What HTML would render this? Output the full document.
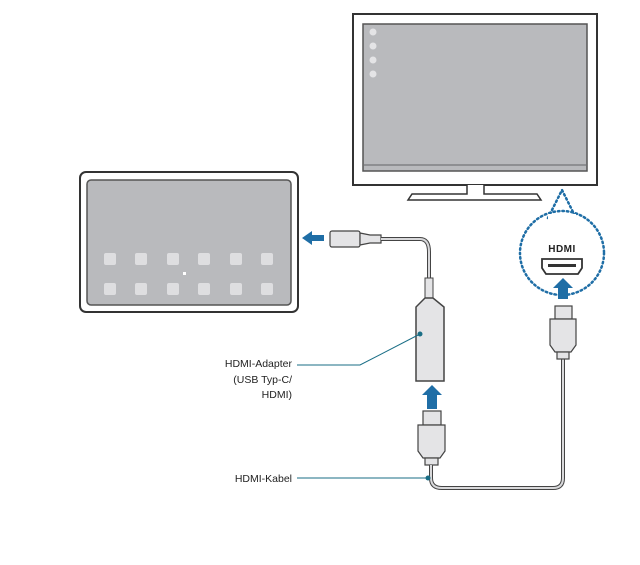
<!DOCTYPE html>
<html><head><style>body{margin:0;background:#fff}svg{display:block}</style></head><body>
<svg width="640" height="565" viewBox="0 0 640 565" xmlns="http://www.w3.org/2000/svg" font-family="Liberation Sans, sans-serif">
<!-- monitor -->
<rect x="353" y="14" width="244" height="171" fill="#fff" stroke="#333" stroke-width="2"/>
<rect x="363" y="24" width="224" height="147" fill="#b9babd" stroke="#555" stroke-width="1.5"/>
<line x1="364" y1="165" x2="586" y2="165" stroke="#8e8f92" stroke-width="2"/>
<g fill="#e4e4e6"><circle cx="373" cy="32" r="3.5"/><circle cx="373" cy="46" r="3.5"/><circle cx="373" cy="60" r="3.5"/><circle cx="373" cy="74" r="3.5"/></g>
<path d="M467 185 V194 H412 L408 200 H541 L537 194 H484 V185" fill="#fff" stroke="#333" stroke-width="1.5"/>
<!-- tablet -->
<rect x="80" y="172" width="218" height="140" rx="6" fill="#fff" stroke="#333" stroke-width="2"/>
<rect x="87" y="180" width="204" height="125" rx="4" fill="#b9babd" stroke="#555" stroke-width="1.5"/>
<g fill="#dedee0">
<rect x="104" y="253" width="12" height="12" rx="2"/><rect x="135" y="253" width="12" height="12" rx="2"/><rect x="167" y="253" width="12" height="12" rx="2"/><rect x="198" y="253" width="12" height="12" rx="2"/><rect x="230" y="253" width="12" height="12" rx="2"/><rect x="261" y="253" width="12" height="12" rx="2"/>
<rect x="104" y="283" width="12" height="12" rx="2"/><rect x="135" y="283" width="12" height="12" rx="2"/><rect x="167" y="283" width="12" height="12" rx="2"/><rect x="198" y="283" width="12" height="12" rx="2"/><rect x="230" y="283" width="12" height="12" rx="2"/><rect x="261" y="283" width="12" height="12" rx="2"/>
<rect x="183" y="272" width="3" height="3" fill="#fff"/>
</g>
<!-- USB-C connector and cable -->
<path d="M302 238 L312 231 V235 H324 V241 H312 V245 Z" fill="#1f6ea6"/>
<rect x="330" y="231" width="30" height="16" rx="2" fill="#e4e4e6" stroke="#444" stroke-width="1.2"/>
<path d="M360 233 L370 235 H381 V243 H370 L360 245 Z" fill="#e4e4e6" stroke="#444" stroke-width="1.2"/>
<path d="M381 239 H420 Q429 239 429 252 V278" fill="none" stroke="#444" stroke-width="4"/>
<path d="M381 239 H420 Q429 239 429 252 V278" fill="none" stroke="#d9d9db" stroke-width="2"/>
<rect x="425" y="278" width="8" height="20" fill="#e4e4e6" stroke="#444" stroke-width="1"/>
<path d="M425 298 L416 307 V381 H444 V307 L433 298 Z" fill="#e4e4e6" stroke="#444" stroke-width="1.5"/>
<!-- adapter arrow -->
<path d="M432 385 L442 395 H437 V409 H427 V395 H422 Z" fill="#1f6ea6"/>
<!-- lower plug -->
<rect x="423" y="411" width="18" height="14" fill="#e4e4e6" stroke="#444" stroke-width="1.2"/>
<path d="M418 425 H445 V451 L440 458 H423 L418 451 Z" fill="#e4e4e6" stroke="#444" stroke-width="1.2"/>
<rect x="425" y="458" width="13" height="7" fill="#e4e4e6" stroke="#444" stroke-width="1.2"/>
<path d="M431 465 V478 Q431 488 442 488 H553 Q563 488 563 478 V358" fill="none" stroke="#444" stroke-width="4"/>
<path d="M431 465 V478 Q431 488 442 488 H553 Q563 488 563 478 V358" fill="none" stroke="#d9d9db" stroke-width="2"/>
<!-- right plug -->
<rect x="555" y="306" width="17" height="13" fill="#e4e4e6" stroke="#444" stroke-width="1.2"/>
<path d="M550 319 H576 V345 L571 352 H555 L550 345 Z" fill="#e4e4e6" stroke="#444" stroke-width="1.2"/>
<rect x="557" y="352" width="12" height="7" fill="#e4e4e6" stroke="#444" stroke-width="1.2"/>
<!-- dotted callout -->
<circle cx="562" cy="253" r="42" fill="#fff" stroke="#1f6ea6" stroke-width="2.5" stroke-dasharray="1.5 3" stroke-linecap="round"/>
<path d="M548 218 L562 190 L576 218" fill="none" stroke="#1f6ea6" stroke-width="2.5" stroke-dasharray="1.5 3" stroke-linecap="round"/>
<rect x="548" y="214" width="28" height="10" fill="#fff"/>
<text x="562" y="252" font-size="10" font-weight="bold" text-anchor="middle" fill="#222" letter-spacing="0.5">HDMI</text>
<path d="M542 259 H582 V268 L578 274 H546 L542 268 Z" fill="#fff" stroke="#333" stroke-width="1.8"/>
<rect x="548" y="264" width="28" height="3" fill="#333"/>
<path d="M563 278 L573 288 H568 V299 H558 V288 H553 Z" fill="#1f6ea6"/>
<!-- labels -->
<g font-size="10.5" fill="#222" text-anchor="end">
<text x="292" y="367">HDMI-Adapter</text>
<text x="292" y="383">(USB Typ-C/</text>
<text x="292" y="398">HDMI)</text>
<text x="292" y="482">HDMI-Kabel</text>
</g>
<path d="M297 365 H360 L420 334" fill="none" stroke="#1a6e86" stroke-width="1"/>
<circle cx="420" cy="334" r="2.5" fill="#1a6e86"/>
<line x1="297" y1="478" x2="428" y2="478" stroke="#1a6e86" stroke-width="1"/>
<circle cx="428" cy="478" r="2.5" fill="#1a6e86"/>
</svg>
</body></html>
